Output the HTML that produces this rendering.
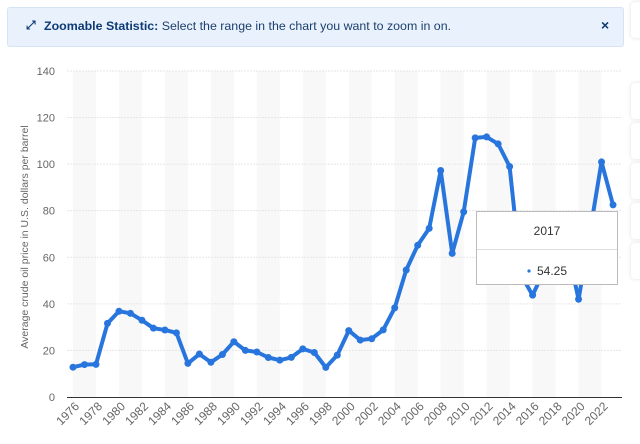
<!DOCTYPE html>
<html><head><meta charset="utf-8"><style>
html,body{margin:0;padding:0;background:#fff;width:640px;height:444px;overflow:hidden;font-family:"Liberation Sans",sans-serif}
.banner{position:absolute;left:7px;top:7px;width:615px;height:38px;background:#e9f2fc;border:1px solid #d5e3f3;border-radius:3px}
.banner .t{position:absolute;left:36px;top:11px;font-size:12.4px;color:#1c3f6e}
.banner b{color:#0d3a74}
.banner .i{position:absolute;left:18px;top:10px;font-size:12px;color:#0d3a74;font-weight:bold}
.banner .x{position:absolute;left:593px;top:9px;font-size:14px;color:#0d3a74;font-weight:bold}
.side{position:absolute;left:631px;width:20px;height:36px;background:#fff;border-radius:4px;box-shadow:0 0 4px rgba(0,0,0,.12)}
</style></head><body>
<div class="banner"><span class="i">⤢</span><span class="t"><b>Zoomable Statistic:</b> Select the range in the chart you want to zoom in on.</span><span class="x">×</span></div>
<div class="side" style="top:2px"></div>
<div class="side" style="top:83px"></div>
<div class="side" style="top:123px"></div>
<div class="side" style="top:163px"></div>
<div class="side" style="top:203px"></div>
<div class="side" style="top:243px"></div>
<svg id="s" width="640" height="444" style="position:absolute;left:0;top:0" xmlns="http://www.w3.org/2000/svg"></svg>
<script>
var d=[12.8,13.92,14.02,31.61,36.83,35.93,32.97,29.55,28.78,27.56,14.43,18.44,14.92,18.23,23.73,20,19.32,16.97,15.82,17.02,20.67,19.09,12.72,17.97,28.5,24.44,25.02,28.83,38.27,54.52,65.14,72.39,97.26,61.67,79.5,111.26,111.67,108.66,98.95,52.39,43.73,54.25,71.34,64.3,41.96,70.86,100.93,82.49];
function X(i){return 73+i*11.49}function Y(v){return 397-v*2.329}
var h='';
for(var i=0;i<48;i+=4){h+='<rect x="'+X(i)+'" y="71" width="23" height="326" fill="#f8f8f8"/>';}
for(var v=20;v<=140;v+=20){h+='<line x1="67" x2="622" y1="'+Y(v)+'" y2="'+Y(v)+'" stroke="#e6e6e6" stroke-dasharray="2,1"/>';}
for(var v=0;v<=140;v+=20){h+='<text x="55" y="'+(Y(v)+4)+'" text-anchor="end" font-size="11" fill="#666">'+v+'</text>';}
h+='<line x1="67" x2="622" y1="397.5" y2="397.5" stroke="#333" stroke-width="1"/>';
for(var i=0;i<48;i+=2){var x=X(i)+7;h+='<text transform="translate('+x+',407) rotate(-45)" text-anchor="end" font-size="12" fill="#666">'+(1976+i)+'</text>';}
h+='<text transform="translate(28,237) rotate(-90)" text-anchor="middle" font-size="10.5" fill="#666">Average crude oil price in U.S. dollars per barrel</text>';
var p='';for(var i=0;i<48;i++)p+=(i?'L':'M')+X(i).toFixed(1)+','+Y(d[i]).toFixed(1);
h+='<path d="'+p+'" fill="none" stroke="#2876dd" stroke-width="4" stroke-linejoin="round"/>';
for(var i=0;i<48;i++)h+='<circle cx="'+X(i)+'" cy="'+Y(d[i])+'" r="3.5" fill="#2876dd"/>';
h+='<rect x="476.5" y="211.5" width="141" height="73" fill="#fff" stroke="#bbb"/><line x1="477" x2="617" y1="249.5" y2="249.5" stroke="#ddd"/>';
h+='<text x="547" y="235" text-anchor="middle" font-size="12" fill="#333">2017</text>';
h+='<circle cx="529" cy="271" r="1.6" fill="#2876dd"/><text x="537" y="275" font-size="12" fill="#333">54.25</text>';
document.getElementById('s').innerHTML=h;
</script>
</body></html>
